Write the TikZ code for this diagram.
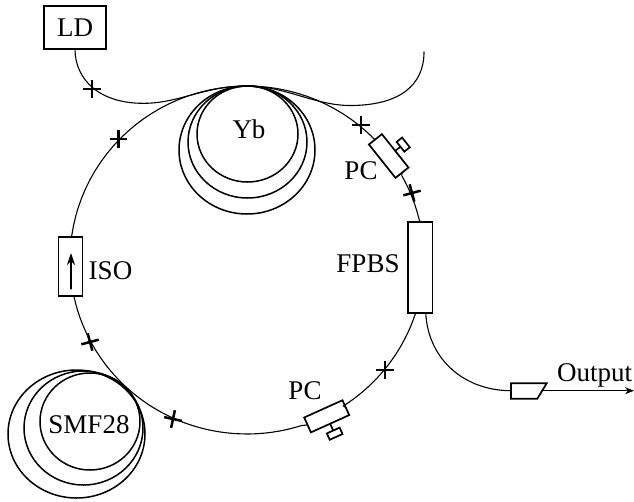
\documentclass[tikz,border=0pt]{standalone}
\usepackage{fontspec}
\setmainfont{Liberation Serif}
\usetikzlibrary{arrows.meta,shapes.misc}
\tikzset{
  fiber/.style={line width=1.1pt,line cap=round},
  box/.style={draw,line width=1.7pt,inner sep=0pt,outer sep=0pt},
  coil/.style={draw,line width=1.5pt},
  xmark/.style={cross out,draw,line width=2.5pt,minimum size=12.7pt,inner sep=0pt,outer sep=0pt,rotate=45+#1},
  xmark/.default=0,
  lbl/.style={anchor=base,inner sep=0pt,font=\fontsize{27}{27}\selectfont},
  ringarc/.style={domain=#1,samples=40,variable=\t}
}
\begin{document}
\begin{tikzpicture}[x=1pt,y=-1pt]
\useasboundingbox (0,0) rectangle (634,501);
% coils
\draw[coil] (247.5,134) ellipse [x radius=50.5,y radius=48];
\draw[coil] (247.5,142) ellipse [x radius=59.5,y radius=56];
\draw[coil] (247,150) ellipse [x radius=68,y radius=64];
\draw[coil] (90,421.5) ellipse [x radius=50,y radius=48.5];
\draw[coil] (83.5,428) ellipse [x radius=59.5,y radius=57];
\draw[coil] (76.5,434) ellipse [x radius=68.5,y radius=64];
% boxes
\node[box,minimum width=62pt,minimum height=43pt,font=\fontsize{27}{27}\selectfont] (ld) at (75,27.5) {LD};
\node[box,minimum width=24pt,minimum height=59pt] (iso) at (70.5,266.5) {};
\node[box,minimum width=24.6pt,minimum height=90.7pt] (fpbs) at (420.3,267.3) {};
\node[box,minimum width=42.7pt,minimum height=16.6pt,rotate=-51.5] (pc1) at (388.7,156) {};
\node[box,minimum width=12.4pt,minimum height=7pt,rotate=-51.5] (pc1k) at (403.2,144.6) {};
\node[box,minimum width=42pt,minimum height=16.3pt,rotate=24.3] (pc2) at (326.7,416.3) {};
\node[box,minimum width=14pt,minimum height=7pt,rotate=24.3] (pc2k) at (334.7,433.7) {};
\draw[box] (pc1.north) -- (pc1k.south);
\draw[box] (pc2.south) -- (pc2k.north);
% output coupler
\coordinate (ocw) at (511,390.7);
\coordinate (oce) at (542,390.7);
\coordinate (oend) at (634,390.7);
\draw[box,line join=miter] (511,383.3) -- (546.7,383.3) -- (537.3,398.7) -- (511,398.7) -- cycle;
\draw[fiber,-{Stealth[length=9pt,width=7pt]}] (oce) -- (oend);
% splice marks
\node[xmark] (a) at (92,89) {};
\node[xmark] (b) at (118.5,139) {};
\node[xmark] (c) at (361,125) {};
\node[xmark=15] (d) at (412,193) {};
\node[xmark] (e) at (385,370) {};
\node[xmark=-12] (f) at (173,419) {};
\node[xmark=15] (g) at (90,342) {};
% fibers
\draw[fiber] (ld.south) .. controls (75,80) and (100,104) .. (145,103.3)
  .. controls (180,102.8) and (205,86) .. (247,86)
  .. controls (285,86) and (315,105.5) .. (350,105.5)
  .. controls (400,105.5) and (424,85) .. (424,52);
\draw[fiber] ([xshift=1pt]iso.north) -- plot[ringarc=188:316] ({247+177*cos(\t)},{260+174*sin(\t)}) -- (pc1.west);
\draw[fiber] (pc1.east) -- plot[ringarc=331:347] ({247+177*cos(\t)},{260+174*sin(\t)}) -- ([xshift=.7pt]fpbs.north);
\draw[fiber] ([xshift=-3.6pt]fpbs.south) -- plot[ringarc=18:57] ({247+177*cos(\t)},{260+174*sin(\t)}) -- (pc2.east);
\draw[fiber] (pc2.west) -- plot[ringarc=72:168] ({247+177*cos(\t)},{260+174*sin(\t)}) -- ([xshift=2.5pt]iso.south);
\draw[fiber] ([xshift=5.4pt]fpbs.south) .. controls (428,360) and (465,390.7) .. (ocw);
% isolator arrow
\coordinate (isob) at (71,289);
\coordinate (isot) at (71,253);
\draw[fiber,-{Stealth[length=12pt,width=8pt]}] (isob) -- (isot);
% labels
\node[lbl] (tyb) at (249,138) {Yb};
\node[lbl] (tsmf) at (89,433) {SMF28};
\node[lbl] (tiso) at (110.5,279) {ISO};
\node[lbl] (tfpbs) at (368,272) {FPBS};
\node[lbl] (tpc1) at (361,179) {PC};
\node[lbl] (tpc2) at (305,399) {PC};
\node[lbl] (tout) at (594.5,381) {Output};
\end{tikzpicture}
\end{document}
